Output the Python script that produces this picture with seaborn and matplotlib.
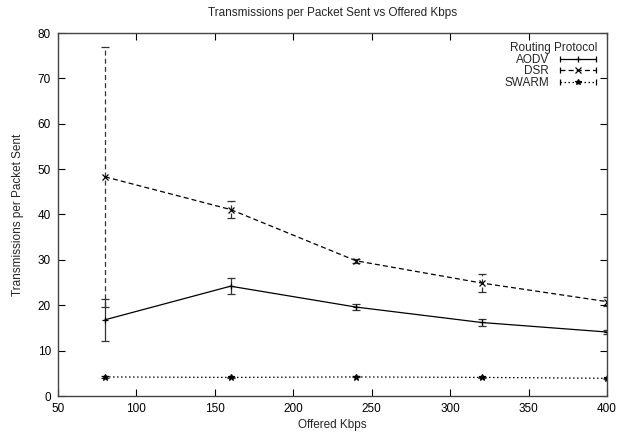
import matplotlib
matplotlib.use("Agg")
import matplotlib.pyplot as plt
from matplotlib.legend_handler import HandlerErrorbar
import seaborn as sns
import pandas as pd
import numpy as np

kbps = [80, 160, 240, 320, 400]
aodv = [16.8, 24.2, 19.6, 16.2, 14.1]
aodv_err = [4.6, 1.8, 0.7, 0.7, 0.4]
dsr = [48.3, 41.1, 29.8, 24.9, 20.8]
dsr_err = [28.7, 1.8, 0.5, 2.0, 1.0]
swarm = [4.2, 4.1, 4.2, 4.1, 3.9]
swarm_err = [0.3, 0.1, 0.1, 0.1, 0.1]
protocols = ["AODV", "DSR", "SWARM"]

sns.set_theme(style="ticks")
plt.rcParams["font.family"] = ["Liberation Sans", "DejaVu Sans"]

df = pd.DataFrame({
    "kbps": kbps * 3,
    "val": aodv + dsr + swarm,
    "err": aodv_err + dsr_err + swarm_err,
    "proto": [p for p in protocols for _ in kbps],
})

fig = plt.figure(figsize=(6.3, 4.4), dpi=100)
ax = fig.add_axes([58 / 630, 1 - 396 / 440, (607 - 58) / 630, (396 - 33) / 440])

styles = {"AODV": ("-", "+"), "DSR": ((0, (4, 2.5)), "x"), "SWARM": ((0, (1.2, 2)), "*")}
sns.lineplot(data=df, x="kbps", y="val", hue="proto", style="proto",
             palette=["black"] * 3, dashes=False, markers=False, legend=False,
             ax=ax, lw=0.9)
for line, p in zip(ax.get_lines(), protocols):
    line.set_linestyle(styles[p][0])

handles = []
for p in protocols:
    sub = df[df.proto == p]
    ls, mk = styles[p]
    h = ax.errorbar(sub.kbps, sub.val, yerr=sub.err, fmt=mk, color="black",
                    ms=5, mew=0.9, ecolor="#333333", elinewidth=0.9,
                    capsize=3, capthick=0.9, linestyle="none")
    for c in h[2]:
        c.set_linestyle(ls)
    # legend proxy (gnuplot-style horizontal error sample)
    hp = ax.errorbar([np.nan], [np.nan], xerr=[1], fmt=mk, color="black", ms=4,
                     mew=0.9, capsize=2.5, capthick=0.9, elinewidth=0.9, linestyle="none")
    for c in hp[2]:
        c.set_linestyle(ls)
    handles.append(hp)

ax.set_xlim(50, 400)
ax.set_ylim(0, 80)
ax.set_xticks(range(50, 401, 50))
ax.set_yticks(range(0, 81, 10))
ax.tick_params(direction="in", length=5, width=0.8, labelsize=8.5,
               top=True, right=True, colors="black", pad=5)
for s in ax.spines.values():
    s.set_linewidth(1.0)
    s.set_color("#444444")

ax.set_xlabel("Offered Kbps", fontsize=8.5, labelpad=3)
ax.set_ylabel("Transmissions per Packet Sent", fontsize=8.5, labelpad=10)
ax.set_title("Transmissions per Packet Sent vs Offered Kbps", fontsize=8.5, pad=12)

leg = ax.legend(handles, protocols, title="Routing Protocol", loc="upper right",
                frameon=False, markerfirst=False, fontsize=8.5, title_fontsize=8.5,
                handlelength=3.3, handleheight=0.5, labelspacing=-0.05,
                borderaxespad=0.5, borderpad=0.3,
                handletextpad=0.8, alignment="right",
                handler_map={type(handles[0]): HandlerErrorbar(xerr_size=1.55)})

fig.savefig("out.png", dpi=100)
